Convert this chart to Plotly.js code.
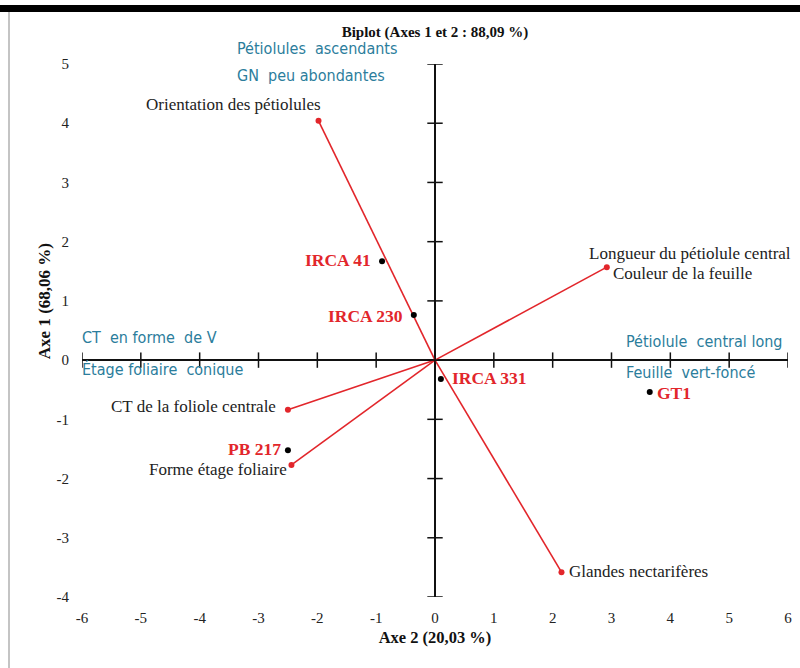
<!DOCTYPE html>
<html>
<head>
<meta charset="utf-8">
<script src="https://cdn.plot.ly/plotly-3.0.1.min.js"></script>
<style>html,body{margin:0;padding:0;background:#fff;}#chart{width:800px;height:668px;}</style>
</head>
<body>
<div id="chart"></div>
<script>
// ---- data ----
var varNames = ["Orientation des pétiolules", "Longueur du pétiolule central", "CT de la foliole centrale", "Forme étage foliaire", "Glandes nectarifères"];
var varX = [-1.98, 2.92, -2.50, -2.44, 2.15];
var varY = [4.04, 1.57, -0.84, -1.77, -3.58];
var varExtraLabel = "Couleur de la feuille"; // shares the 2nd vector

var indNames = ["IRCA 41", "IRCA 230", "IRCA 331", "GT1", "PB 217"];
var indX = [-0.90, -0.36, 0.10, 3.65, -2.50];
var indY = [1.67, 0.76, -0.32, -0.54, -1.52];

var xTickVals = [-6, -5, -4, -3, -2, -1, 0, 1, 2, 3, 4, 5, 6];
var yTickVals = [-4, -3, -2, -1, 0, 1, 2, 3, 4, 5];

var interpLabels = ["Pétiolules  ascendants", "GN  peu abondantes", "CT  en forme  de V", "Étage foliaire  conique", "Pétiolule  central long", "Feuille  vert-foncé"];

var titleText = "Biplot (Axes 1 et 2 : 88,09 %)";
var xTitle = "Axe 2 (20,03 %)";
var yTitle = "Axe 1 (68,06 %)";

// ---- styles ----
var RED = "#e2262b";
var TEAL = "#2b7d9c";
var SERIF = "Liberation Serif, Times New Roman, serif";
var NARROW = "Liberation Sans Narrow, DejaVu Sans Condensed, Arial Narrow, sans-serif";

var traces = [];
// vectors
var lx = [], ly = [];
for (var i = 0; i < varX.length; i++) { lx.push(0, varX[i], null); ly.push(0, varY[i], null); }
traces.push({x: lx, y: ly, type: "scatter", mode: "lines", line: {color: RED, width: 1.6}, hoverinfo: "skip", showlegend: false});
traces.push({x: varX, y: varY, type: "scatter", mode: "markers", marker: {color: RED, size: 6}, hoverinfo: "skip", showlegend: false});
// crossing tick marks on the axes through origin
traces.push({x: xTickVals, y: xTickVals.map(function(){return 0;}), type: "scatter", mode: "markers",
  marker: {symbol: "line-ns", size: 11, line: {color: "#111", width: 1.5}}, hoverinfo: "skip", showlegend: false});
traces.push({x: yTickVals.map(function(){return 0;}), y: yTickVals, type: "scatter", mode: "markers",
  marker: {symbol: "line-ew", size: 11, line: {color: "#111", width: 1.5}}, hoverinfo: "skip", showlegend: false});
// individuals
traces.push({x: indX, y: indY, type: "scatter", mode: "markers", marker: {color: "#000", size: 6}, hoverinfo: "skip", showlegend: false});

var annotations = [];
// variable labels placement
var varPlace = [
  {xanchor: "right", xshift: 4, yshift: 16},
  {xanchor: "left", xshift: -20, yshift: 14},
  {xanchor: "right", xshift: -10, yshift: 3},
  {xanchor: "right", xshift: -2, yshift: -5},
  {xanchor: "left", xshift: 6, yshift: 1}
];
for (var i = 0; i < varNames.length; i++) {
  annotations.push({x: varX[i], y: varY[i], xref: "x", yref: "y", text: varNames[i], showarrow: false,
    xanchor: varPlace[i].xanchor, yanchor: "middle", xshift: varPlace[i].xshift, yshift: varPlace[i].yshift,
    font: {family: SERIF, size: 17, color: "#222"}});
}
annotations.push({x: varX[1], y: varY[1], xref: "x", yref: "y", text: varExtraLabel, showarrow: false,
  xanchor: "left", yanchor: "middle", xshift: 4, yshift: -6, font: {family: SERIF, size: 17, color: "#222"}});

var indPlace = [
  {xanchor: "right", xshift: -9, yshift: 1},
  {xanchor: "right", xshift: -9, yshift: -1},
  {xanchor: "left", xshift: 9, yshift: 1},
  {xanchor: "left", xshift: 5, yshift: -1},
  {xanchor: "right", xshift: -5, yshift: 1}
];
for (var i = 0; i < indNames.length; i++) {
  annotations.push({x: indX[i], y: indY[i], xref: "x", yref: "y", text: "<b>" + indNames[i] + "</b>", showarrow: false,
    xanchor: indPlace[i].xanchor, yanchor: "middle", xshift: indPlace[i].xshift, yshift: indPlace[i].yshift,
    font: {family: SERIF, size: 17.5, color: RED}});
}

// interpretation labels (teal), placed in paper coordinates
var interpPos = [[0.217, 1.030], [0.217, 0.979], [-0.003, 0.486], [-0.003, 0.426], [0.768, 0.480], [0.768, 0.422]];
for (var i = 0; i < interpLabels.length; i++) {
  annotations.push({x: interpPos[i][0], y: interpPos[i][1], xref: "paper", yref: "paper", text: interpLabels[i], showarrow: false,
    xanchor: "left", yanchor: "middle", font: {family: NARROW, size: 16, color: TEAL}});
}

// y axis title
annotations.push({x: -0.052, y: 1.0, xref: "paper", yref: "y", text: "<b>" + yTitle + "</b>", showarrow: false,
  textangle: -90, xanchor: "center", yanchor: "middle", font: {family: SERIF, size: 17, color: "#111"}});

var layout = {
  width: 800, height: 668,
  margin: {l: 82, r: 12, t: 64, b: 71},
  paper_bgcolor: "#fff", plot_bgcolor: "#fff",
  showlegend: false,
  hovermode: false,
  title: {text: "<b>" + titleText + "</b>", x: 0.5, xref: "paper", y: 1 - 32/668, yref: "container", yanchor: "middle",
    font: {family: SERIF, size: 15, color: "#111"}},
  xaxis: {range: [-6, 6], tickvals: xTickVals, ticktext: xTickVals.map(String), showgrid: false, showline: false,
    zeroline: true, zerolinecolor: "#111", zerolinewidth: 1.6, ticks: "outside", ticklen: 7, tickcolor: "rgba(0,0,0,0)",
    tickfont: {family: SERIF, size: 15, color: "#222"}, fixedrange: true,
    title: {text: "<b>" + xTitle + "</b>", standoff: 6, font: {family: SERIF, size: 16.5, color: "#111"}}},
  yaxis: {range: [-4, 5], tickvals: yTickVals, ticktext: yTickVals.map(String), showgrid: false, showline: false,
    zeroline: true, zerolinecolor: "#111", zerolinewidth: 1.6, ticks: "outside", ticklen: 9, tickcolor: "rgba(0,0,0,0)",
    tickfont: {family: SERIF, size: 15, color: "#222"}, fixedrange: true},
  annotations: annotations,
  shapes: [
    {type: "rect", xref: "paper", yref: "paper", x0: -0.2, x1: 1.2, y0: 1 + 52/533, y1: 1 + 59/533, fillcolor: "#000", line: {width: 0}, layer: "above"},
    {type: "line", xref: "paper", yref: "paper", x0: -73/706, x1: -73/706, y0: -0.2, y1: 1 + 52/533, line: {color: "#c4c4c4", width: 2}}
  ]
};

Plotly.newPlot("chart", traces, layout, {displayModeBar: false, staticPlot: true});
</script>
</body>
</html>
